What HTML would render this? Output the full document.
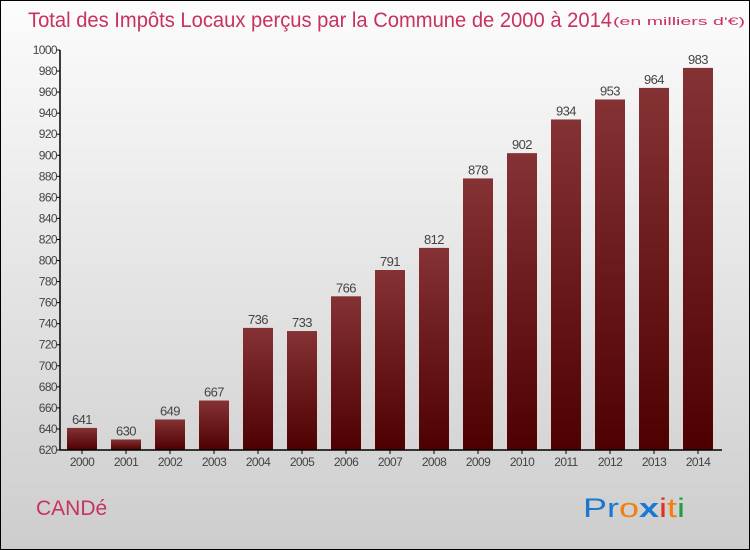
<!DOCTYPE html>
<html><head><meta charset="utf-8"><style>
body{margin:0}
svg{display:block}
text{font-family:"Liberation Sans","DejaVu Sans",sans-serif}
</style></head><body>
<svg id="chart" width="750" height="550" xmlns="http://www.w3.org/2000/svg">
<defs>
<linearGradient id="bg" x1="0" y1="0" x2="0" y2="1"><stop offset="0" stop-color="#fcfcfc"/><stop offset="1" stop-color="#cdcdcd"/></linearGradient>
<linearGradient id="bar" x1="0" y1="0" x2="0" y2="1"><stop offset="0" stop-color="#853234"/><stop offset="1" stop-color="#4e0000"/></linearGradient>
</defs>
<rect x="0.5" y="0.5" width="749" height="549" fill="url(#bg)" stroke="#000"/>
<text x="28" y="27" font-size="21" fill="#c8325f" textLength="584" lengthAdjust="spacingAndGlyphs">Total des Impôts Locaux perçus par la Commune de 2000 à 2014</text>
<text x="613" y="25" font-size="11" fill="#c8325f" textLength="132" lengthAdjust="spacingAndGlyphs">(en milliers d'€)</text>
<g id="yaxis"></g>
<g id="bars"></g>
<g id="xaxis"></g>
<text x="36" y="515" font-size="21" fill="#c8325f">CANDé</text>
<g font-size="27">
<text x="583" y="517" textLength="102" lengthAdjust="spacingAndGlyphs"><tspan fill="#1a78d0">Pr</tspan><tspan fill="#f08010">o</tspan><tspan fill="#1a78d0" font-weight="bold">x</tspan><tspan fill="#e03020">i</tspan><tspan fill="#f08010">t</tspan><tspan fill="#20a040">i</tspan></text>
</g>
</svg>
<script>
const years=["2000","2001","2002","2003","2004","2005","2006","2007","2008","2009","2010","2011","2012","2013","2014"];
const values=[641,630,649,667,736,733,766,791,812,878,902,934,953,964,983];
const yTicks=[620,640,660,680,700,720,740,760,780,800,820,840,860,880,900,920,940,960,980,1000];
const NS="http://www.w3.org/2000/svg";
const x0=60,x1=720,yb=450,yt=50,vmin=620,vmax=1000;
const step=(x1-x0)/years.length;
function y(v){return yb-(v-vmin)/(vmax-vmin)*(yb-yt);}
function xc(i){return x0+step*(i+0.5);}
function mk(tag,attrs,parent,txt){const e=document.createElementNS(NS,tag);for(const k in attrs)e.setAttribute(k,attrs[k]);if(txt!==undefined)e.textContent=txt;parent.appendChild(e);return e;}
const ya=document.getElementById('yaxis'),ba=document.getElementById('bars'),xa=document.getElementById('xaxis');
mk('line',{x1:x0,y1:yt,x2:x0,y2:yb,stroke:'#000','stroke-width':1.5},ya);
yTicks.forEach(t=>{
 const l=mk('line',{x1:x0-4,x2:x0,y1:y(t),y2:y(t),stroke:'#000'},ya);
 
 
 const tx=mk('text',{x:x0-3,y:y(t)+4,'font-size':12,'text-anchor':'end',fill:'#444','letter-spacing':'-0.6'},ya,t);
 
 
});
values.forEach((v,i)=>{
 const r=mk('rect',{x:xc(i)-15,y:y(v),width:30,height:yb-y(v),fill:'url(#bar)'},ba);
 
 
 const t=mk('text',{x:xc(i),y:y(v)-4,'font-size':13,'text-anchor':'middle',fill:'#444','letter-spacing':'-0.6'},ba,v);
 
 
 const xl=mk('text',{x:xc(i),y:yb+16,'font-size':12,'text-anchor':'middle',fill:'#444','letter-spacing':'-0.6'},xa,years[i]);
 
 
 const tk=mk('line',{x1:xc(i),x2:xc(i),y1:yb,y2:yb+4,stroke:'#000'},xa);
 
 
});
mk('line',{x1:x0,y1:yb,x2:x1+2,y2:yb,stroke:'#000','stroke-width':1.5},xa);
</script>
</body></html>
